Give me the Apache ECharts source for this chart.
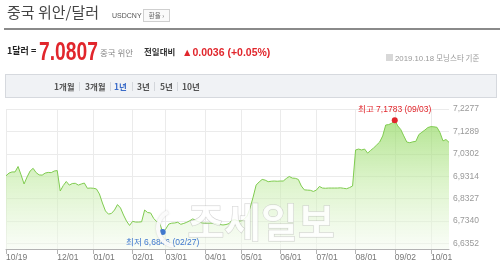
<!DOCTYPE html>
<html>
<head>
<meta charset="utf-8">
<script src="https://cdn.jsdelivr.net/npm/echarts@6/dist/echarts.min.js"></script>
<style>
  html, body { margin:0; padding:0; width:500px; height:268px; overflow:hidden; background:#fff; }
  #chart { position:absolute; left:0; top:0; width:500px; height:268px; }
  .t { position:absolute; white-space:nowrap; line-height:1; font-family:"Liberation Sans", Arial, "Noto Sans CJK KR", sans-serif; z-index:2; }
  .k { font-family:"Noto Sans CJK KR", sans-serif; }
</style>
</head>
<body>
<div id="chart"></div>

<!-- header -->
<div class="t k" style="left:7px;top:4px;font-size:15px;color:#444;">중국 위안/달러</div>
<div class="t" style="left:112px;top:12px;font-size:7px;color:#555;">USDCNY</div>
<div class="t k" style="left:143px;top:9px;width:25px;height:11px;border:1px solid #cfcfcf;background:#fafafa;font-size:6.5px;color:#666;text-align:center;line-height:11px;">환율 ›</div>
<div class="t" style="left:4px;top:28px;width:496px;height:2px;background:#8a8a8a;"></div>

<div class="t k" style="left:7px;top:46px;font-size:9px;font-weight:bold;color:#222;">1달러 =</div>
<div class="t" style="left:39px;top:37.6px;font-size:26px;font-weight:bold;color:#e1262c;transform:scaleX(0.74);transform-origin:0 0;">7.0807</div>
<div class="t k" style="left:100px;top:48px;font-size:8.5px;color:#888;">중국 위안</div>
<div class="t k" style="left:144px;top:47px;font-size:8.5px;font-weight:bold;color:#333;">전일대비</div>
<div class="t" style="left:182px;top:46.5px;font-size:10.5px;font-weight:bold;color:#e1262c;">▲0.0036 (+0.05%)</div>
<div class="t" style="left:386px;top:54px;width:7px;height:7px;background:#d8d8d8;"></div>
<div class="t" style="left:395px;top:54px;font-size:7.8px;color:#999;">2019.10.18 <span class="k" style="font-size:7.5px;">모닝스타 기준</span></div>

<div class="t" style="left:5px;top:74px;width:490px;height:22px;background:#f0f2f5;border:1px solid #d6d9de;"></div>
<div class="t k" style="left:54px;top:82px;font-size:8.5px;font-weight:bold;color:#555;">1개월</div>
<div class="t k" style="left:85px;top:82px;font-size:8.5px;font-weight:bold;color:#555;">3개월</div>
<div class="t k" style="left:114px;top:82px;font-size:8.5px;font-weight:bold;color:#3a6bc8;">1년</div>
<div class="t k" style="left:137px;top:82px;font-size:8.5px;font-weight:bold;color:#555;">3년</div>
<div class="t k" style="left:160px;top:82px;font-size:8.5px;font-weight:bold;color:#555;">5년</div>
<div class="t k" style="left:182px;top:82px;font-size:8.5px;font-weight:bold;color:#555;">10년</div>
<div class="t" style="left:79px;top:82px;width:1px;height:9px;background:#d3d6db;"></div>
<div class="t" style="left:110px;top:82px;width:1px;height:9px;background:#d3d6db;"></div>
<div class="t" style="left:132px;top:82px;width:1px;height:9px;background:#d3d6db;"></div>
<div class="t" style="left:154px;top:82px;width:1px;height:9px;background:#d3d6db;"></div>
<div class="t" style="left:177px;top:82px;width:1px;height:9px;background:#d3d6db;"></div>

<script>
// ---- data ----
const tickDates = ['10/19','12/01','01/01','02/01','03/01','04/01','05/01','06/01','07/01','08/01','09/02','10/01'];
const tickIndex = [0, 17, 29, 42, 53, 66, 78, 91, 103, 116, 129, 141];
const yTicks = [6.6352, 6.7340, 6.8327, 6.9314, 7.0302, 7.1289, 7.2277];
const rates = [
  6.933, 6.945, 6.950, 6.950, 6.974, 6.937, 6.897, 6.928, 6.954, 6.966,
  6.947, 6.937, 6.936, 6.945, 6.948, 6.947, 6.954, 6.956, 6.866, 6.890,
  6.908, 6.892, 6.899, 6.900, 6.892, 6.897, 6.901, 6.878, 6.879, 6.878,
  6.875, 6.853, 6.813, 6.778, 6.764, 6.767, 6.782, 6.806, 6.791, 6.760,
  6.733, 6.714, 6.732, 6.729, 6.729, 6.730, 6.782, 6.771, 6.769, 6.745,
  6.731, 6.724, 6.6846, 6.698, 6.720, 6.724, 6.725, 6.728, 6.719, 6.723,
  6.728, 6.735, 6.743, 6.735, 6.730, 6.725, 6.724, 6.724, 6.724, 6.724,
  6.720, 6.718, 6.716, 6.718, 6.722, 6.737, 6.739, 6.734, 6.734, 6.741,
  6.755, 6.791, 6.839, 6.892, 6.906, 6.917, 6.914, 6.907, 6.909, 6.910,
  6.909, 6.910, 6.910, 6.921, 6.930, 6.923, 6.922, 6.917, 6.888, 6.871,
  6.870, 6.869, 6.864, 6.870, 6.886, 6.879, 6.878, 6.879, 6.879, 6.879,
  6.879, 6.880, 6.878, 6.876, 6.881, 6.888, 7.047, 7.051, 7.047, 7.051,
  7.033, 7.045, 7.056, 7.069, 7.082, 7.109, 7.157, 7.159, 7.165, 7.1783,
  7.153, 7.137, 7.109, 7.082, 7.079, 7.083, 7.085, 7.115, 7.125, 7.135,
  7.146, 7.150, 7.149, 7.147, 7.124, 7.087, 7.093, 7.0807
];
const extremeNames = ['최고', '최저'];
const extremeDates = ['09/03', '02/27'];

// ---- build ----
const tickSet = new Set(tickIndex);
const categories = rates.map((v, i) => {
  const k = tickIndex.indexOf(i);
  return k >= 0 ? tickDates[k] : '';
});
const isTick = (i) => tickSet.has(i);
const fmt = (v) => Number(v).toFixed(4).replace('.', ',');
const FONT = '"Liberation Sans", Arial, "Noto Sans CJK KR", sans-serif';

const chart = echarts.init(document.getElementById('chart'), null, {renderer: 'canvas'});
chart.setOption({
  animation: false,
  backgroundColor: 'transparent',
  grid: { left: 6, right: 51, top: 109, bottom: 19, containLabel: false, outerBoundsMode: 'none' },
  xAxis: {
    type: 'category',
    boundaryGap: false,
    data: categories,
    axisLine: { show: true, lineStyle: { color: '#b3b3b3', width: 1 } },
    axisTick: { show: true, interval: isTick, length: 5, lineStyle: { color: '#b3b3b3' } },
    axisLabel: { interval: isTick, align: 'left', color: '#777', fontSize: 8.5, margin: 4, fontFamily: FONT },
    splitLine: { show: true, interval: isTick, lineStyle: { color: '#ebebeb', width: 1 } }
  },
  yAxis: {
    type: 'value',
    position: 'right',
    min: 6.6101,
    max: 7.2277,
    scale: true,
    axisLine: { show: false },
    axisTick: { show: false, customValues: yTicks },
    axisLabel: { customValues: yTicks, formatter: fmt, color: '#999', fontSize: 8.5, margin: 4, fontFamily: FONT },
    splitLine: { show: true, lineStyle: { color: '#ebebeb', width: 1 } }
  },
  series: [{
    type: 'line',
    data: rates,
    showSymbol: false,
    symbol: 'none',
    lineStyle: { color: '#7fcb4f', width: 1 },
    areaStyle: {
      color: new echarts.graphic.LinearGradient(0, 0, 0, 1, [
        { offset: 0, color: 'rgba(140,214,88,0.95)' },
        { offset: 0.5, color: 'rgba(196,236,166,0.8)' },
        { offset: 1, color: 'rgba(244,251,239,0.7)' }
      ])
    },
    markPoint: {
      symbol: 'circle',
      symbolSize: 6,
      data: [
        { type: 'max', itemStyle: { color: '#e1262c' },
          label: { show: true, position: 'top', distance: 3, color: '#e1262c', fontSize: 8.5, fontFamily: FONT,
                   formatter: (p) => extremeNames[0] + ' ' + fmt(p.value) + ' (' + extremeDates[0] + ')' } },
        { type: 'min', itemStyle: { color: '#3f78cf' },
          label: { show: true, position: 'bottom', distance: 3, color: '#3f78cf', fontSize: 8.5, fontFamily: FONT,
                   formatter: (p) => extremeNames[1] + ' ' + fmt(p.value) + ' (' + extremeDates[1] + ')' } }
      ]
    }
  }],
  graphic: [
    { type: 'text', left: 187, top: 201, z: 100, silent: true,
      style: { text: '조세일보', font: 'bold 40px "Noto Sans CJK KR", sans-serif',
               fill: 'rgba(255,255,255,0.85)', stroke: 'rgba(170,170,170,0.55)', lineWidth: 1 } },
    { type: 'arc', z: 100, silent: true,
      shape: { cx: 176, cy: 228, r: 18, startAngle: Math.PI * 0.55, endAngle: Math.PI * 1.35 },
      style: { stroke: 'rgba(255,255,255,0.9)', lineWidth: 4, fill: null, shadowColor: 'rgba(150,150,150,0.5)', shadowBlur: 2 } }
  ]
});
</script>
</body>
</html>
